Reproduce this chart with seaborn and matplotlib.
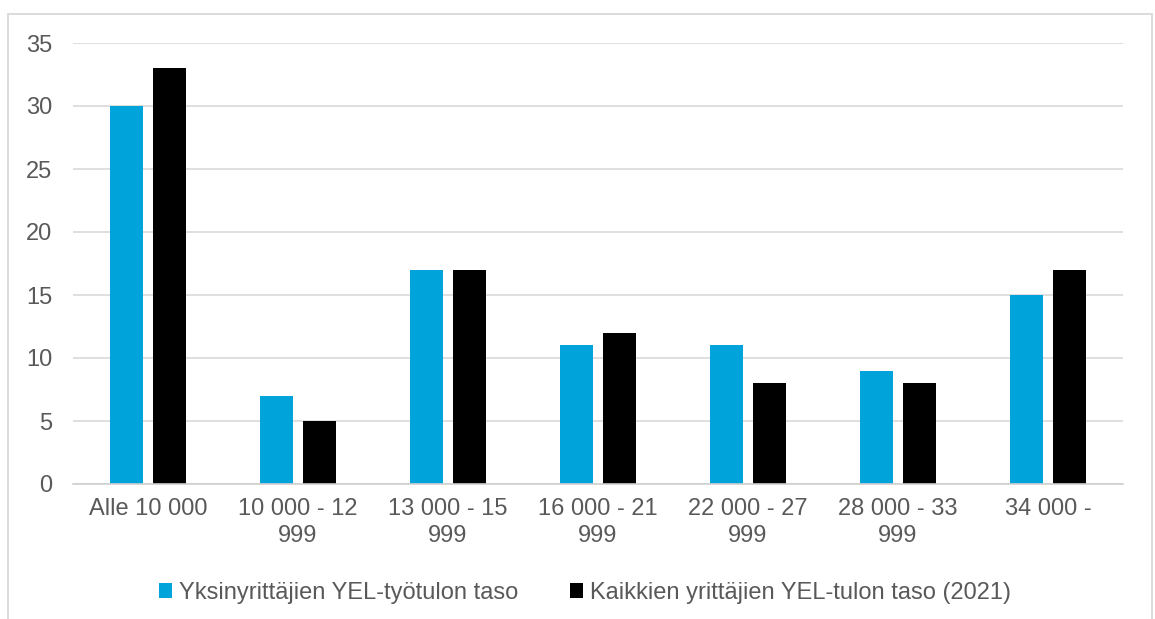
import pandas as pd
import matplotlib
matplotlib.use('Agg')
from matplotlib import pyplot as plt
from matplotlib.patches import Rectangle
import seaborn as sns

categories = ['Alle 10 000', '10 000 - 12\n999', '13 000 - 15\n999', '16 000 - 21\n999',
              '22 000 - 27\n999', '28 000 - 33\n999', '34 000 -']
yksin = [30, 7, 17, 11, 11, 9, 15]
kaikki = [33, 5, 17, 12, 8, 8, 17]
series_names = ['Yksinyrittäjien YEL-työtulon taso', 'Kaikkien yrittäjien YEL-tulon taso (2021)']
colors = ['#00A3DA', '#000000']

df = pd.DataFrame({
    'luokka': categories * 2,
    'arvo': yksin + kaikki,
    'sarja': [series_names[0]] * len(categories) + [series_names[1]] * len(categories),
})

sns.set_style('white')
plt.rcParams['font.family'] = ['Liberation Sans', 'DejaVu Sans']

fig = plt.figure(figsize=(11.55, 6.19), dpi=100)
ax = fig.add_axes([73 / 1155, 1 - 484 / 619, 1050 / 1155, 441 / 619])

sns.barplot(data=df, x='luokka', y='arvo', hue='sarja', palette=colors,
            width=0.573, gap=0.21, ax=ax, saturation=1, legend=True,
            edgecolor='none', linewidth=0)

ax.set_ylim(0, 35)
ax.set_xlim(-0.5, len(categories) - 0.5)
ax.set_yticks(range(0, 36, 5))
ax.yaxis.grid(True, color='#d9d9d9', linewidth=1.2)
ax.set_axisbelow(True)
for s in ['top', 'right', 'left']:
    ax.spines[s].set_visible(False)
ax.spines['bottom'].set_color('#d0d0d0')
ax.spines['bottom'].set_linewidth(1.2)
ax.set_xlabel('')
ax.set_ylabel('')
ax.tick_params(axis='both', length=0, labelsize=17, labelcolor='#595959')
ax.tick_params(axis='x', pad=10)
ax.tick_params(axis='y', pad=15)
for t in ax.get_xticklabels():
    t.set_linespacing(1.3)

handles, labels = ax.get_legend_handles_labels()
ax.legend(handles, labels, loc='center', bbox_to_anchor=(0.4876, -0.247), ncol=2,
          frameon=False, fontsize=17, labelcolor='#595959', handlelength=0.55,
          handleheight=0.55, handletextpad=0.3, columnspacing=2.2)

fig.patches.append(Rectangle((8 / 1155, -0.05), 1144 / 1155, 1.05 - 14 / 619,
                             transform=fig.transFigure, fill=False,
                             edgecolor='#d9d9d9', linewidth=1.3))

fig.savefig('out.png', dpi=100)
